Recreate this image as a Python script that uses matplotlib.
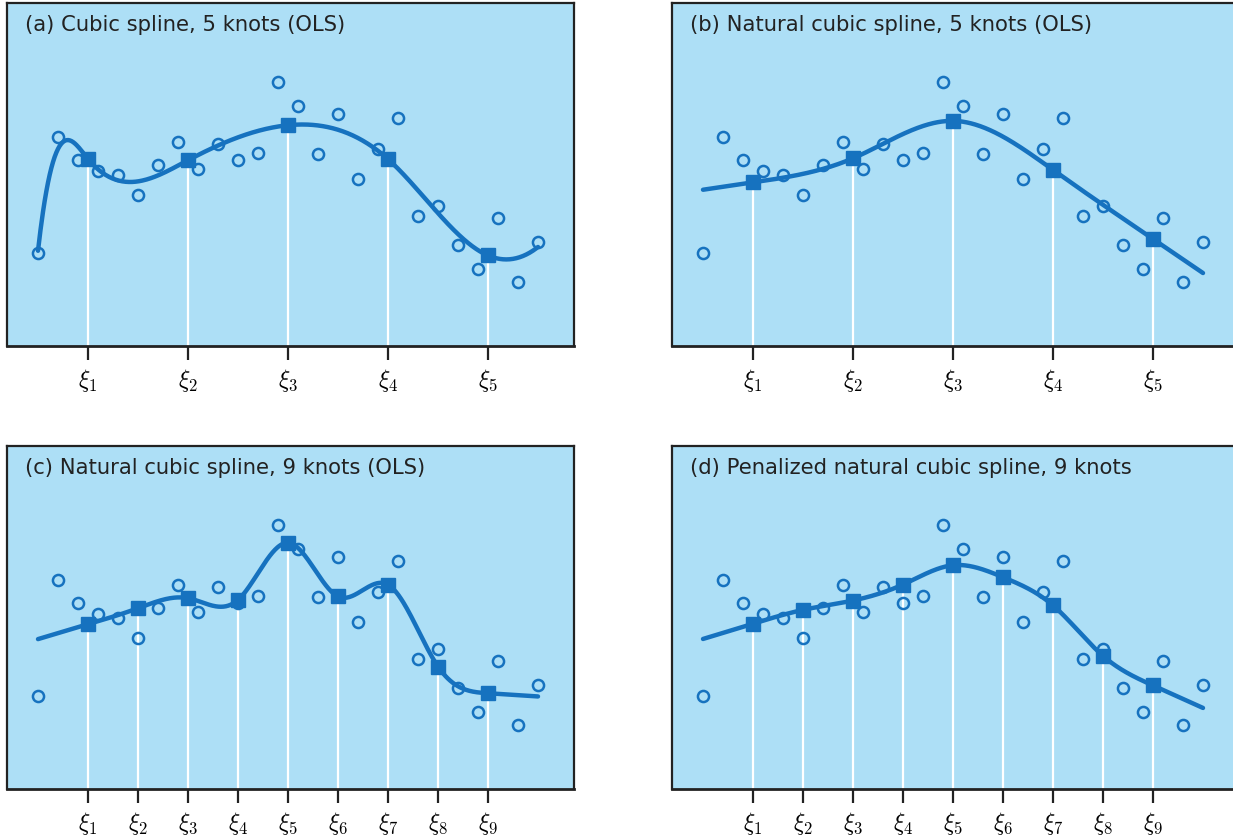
import numpy as np
import matplotlib.pyplot as plt

plt.rcParams['mathtext.fontset'] = 'cm'
plt.rcParams['font.family'] = ['DejaVu Sans']

x_obs = [0, 1, 2, 3, 4, 5, 6, 7, 8, 9, 10, 11, 12,
         13, 14, 15, 16, 17, 18, 19, 20, 21, 22, 23, 24, 25]
y_obs = [9.27, 20.93, 18.6, 17.53, 17.13, 15.13, 18.13, 20.4, 17.7, 20.2,
         18.6, 19.33, 26.37, 24.0, 19.2, 23.23, 16.7, 19.67, 22.83, 12.97,
         14.03, 10.13, 7.73, 12.8, 6.37, 10.4]

knots5 = [2.5, 7.5, 12.5, 17.5, 22.5]
knots9 = [2.5, 5.0, 7.5, 10.0, 12.5, 15.0, 17.5, 20.0, 22.5]
labels5 = [r'$\xi_%d$' % i for i in range(1, 6)]
labels9 = [r'$\xi_%d$' % i for i in range(1, 10)]

titles = ['(a) Cubic spline, 5 knots (OLS)',
          '(b) Natural cubic spline, 5 knots (OLS)',
          '(c) Natural cubic spline, 9 knots (OLS)',
          '(d) Penalized natural cubic spline, 9 knots']

lam = 5.0  # roughness penalty for panel (d)

blue = '#1672bf'
bg = '#addff6'
dark = '#222222'


def cubic_basis(x, knots):
    x = np.asarray(x, float)
    cols = [np.ones_like(x), x, x**2, x**3]
    cols += [np.clip(x - k, 0, None)**3 for k in knots]
    return np.column_stack(cols)


def natural_basis(x, knots, deriv=0):
    x = np.asarray(x, float)
    xi = np.asarray(knots, float)
    K = len(xi)

    def d(k):
        if deriv == 0:
            a = np.clip(x - xi[k], 0, None)**3 - np.clip(x - xi[-1], 0, None)**3
        else:
            a = 6 * (np.clip(x - xi[k], 0, None) - np.clip(x - xi[-1], 0, None))
        return a / (xi[-1] - xi[k])

    if deriv == 0:
        cols = [np.ones_like(x), x]
    else:
        cols = [np.zeros_like(x), np.zeros_like(x)]
    cols += [d(k) - d(K - 2) for k in range(K - 2)]
    return np.column_stack(cols)


def fit_ols(basis, knots):
    B = basis(x_obs, knots)
    beta = np.linalg.lstsq(B, np.array(y_obs), rcond=None)[0]
    return lambda t: basis(t, knots) @ beta


def fit_penalized(knots):
    N = natural_basis(x_obs, knots)
    grid = np.linspace(knots[0], knots[-1], 4001)
    D = natural_basis(grid, knots, deriv=2)
    omega = D.T @ D * (grid[1] - grid[0])
    beta = np.linalg.solve(N.T @ N + lam * omega, N.T @ np.array(y_obs))
    return lambda t: natural_basis(t, knots) @ beta


tt = np.linspace(x_obs[0], x_obs[-1], 600)
fits = [(fit_ols(cubic_basis, knots5), knots5, labels5),
        (fit_ols(natural_basis, knots5), knots5, labels5),
        (fit_ols(natural_basis, knots9), knots9, labels9),
        (fit_penalized(knots9), knots9, labels9)]

W, H = 1233, 836
fig = plt.figure(figsize=(W / 100, H / 100), dpi=100)
lefts = [7, 672, 7, 672]
tops = [3, 3, 446, 446]
pw, ph = 567, 343

for i, (f, knots, labs) in enumerate(fits):
    ax = fig.add_axes([lefts[i] / W, (H - tops[i] - ph) / H, pw / W, ph / H])
    ax.set_facecolor(bg)
    fk = f(np.array(knots))
    ax.vlines(knots, 0, fk, color='white', lw=1.6, zorder=1)
    ax.plot(x_obs, y_obs, 'o', mfc='none', mec=blue, ms=8, mew=1.8, zorder=2)
    ax.plot(tt, f(tt), color=blue, lw=3.2, solid_capstyle='round', zorder=3)
    ax.plot(knots, fk, 's', color=blue, ms=9.5, zorder=4)
    ax.set_xlim(-1.55, 26.8)
    ax.set_ylim(0, 34.3)
    ax.set_xticks(knots)
    ax.set_xticklabels(labs)
    ax.set_yticks([])
    ax.tick_params(axis='x', length=10, width=1.6, color=dark, labelsize=17, pad=5)
    for s in ax.spines.values():
        s.set_color(dark)
        s.set_linewidth(1.6)
    ax.spines['bottom'].set_linewidth(2)
    ax.text(0.032, 0.935, titles[i], transform=ax.transAxes, fontsize=15.2,
            color=dark, va='center', ha='left')

fig.savefig('out.png', dpi=100)
